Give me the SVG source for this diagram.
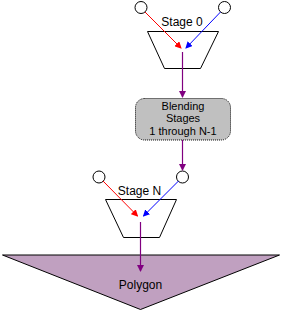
<svg xmlns="http://www.w3.org/2000/svg" width="281" height="311" viewBox="0 0 281 311">
<defs>
<style>
text{font-family:"Liberation Sans",Arial,sans-serif;font-size:12px;fill:#000;text-anchor:middle}
text.s{font-size:11px}
.c{fill:#fff;stroke:#000;stroke-width:1}
.t{fill:#fff;stroke:#000;stroke-width:1}
.r{stroke:#ff0000;stroke-width:1;fill:none}
.b{stroke:#0000ff;stroke-width:1;fill:none}
.p{stroke:#800080;stroke-width:1.2;fill:none}
</style>
<marker id="ar" markerWidth="7" markerHeight="7" refX="6" refY="3.5" orient="auto" markerUnits="userSpaceOnUse"><path d="M0,0 L7,3.5 L0,7 Z" fill="#ff0000"/></marker>
<marker id="ab" markerWidth="7" markerHeight="7" refX="6" refY="3.5" orient="auto" markerUnits="userSpaceOnUse"><path d="M0,0 L7,3.5 L0,7 Z" fill="#0000ff"/></marker>
<marker id="ap" markerWidth="7" markerHeight="7" refX="6" refY="3.5" orient="auto" markerUnits="userSpaceOnUse"><path d="M0,0 L7,3.5 L0,7 Z" fill="#800080"/></marker>
</defs>
<g id="polygon">
<polygon points="2.5,255 279.5,255 140.5,309.5" fill="#c0a0c0" stroke="#000" stroke-width="1"/>
<text x="140.5" y="288.5">Polygon</text>
</g>
<g id="stage0">
<polygon class="t" points="147.5,31.5 218.5,31.5 200.5,68.5 164.5,68.5"/>
<text x="182" y="25.5">Stage 0</text>
</g>
<g id="stage0-in1"><circle class="c" cx="141" cy="7.5" r="6"/></g>
<g id="stage0-in2"><circle class="c" cx="224.5" cy="7.5" r="6"/></g>
<g id="blending">
<rect x="135.5" y="98.5" width="95" height="41.5" rx="9" fill="#c0c0c0" stroke="#000" stroke-width="1" stroke-dasharray="1,1"/>
<text class="s" x="183" y="109.5">Blending</text>
<text class="s" x="183" y="122">Stages</text>
<text class="s" x="183" y="134.5">1 through N-1</text>
</g>
<g id="stageN">
<polygon class="t" points="105.5,199.5 176.5,199.5 159.5,237.5 123.5,237.5"/>
<text x="139.5" y="194.5">Stage N</text>
</g>
<g id="stageN-in1"><circle class="c" cx="99" cy="177" r="6"/></g>
<g id="stageN-in2"><circle class="c" cx="182.5" cy="177" r="6"/></g>
<g id="connectors">
<line class="r" x1="145" y1="12" x2="181" y2="48" marker-end="url(#ar)"/>
<line class="b" x1="220.5" y1="12" x2="186" y2="48" marker-end="url(#ab)"/>
<line class="p" x1="182.5" y1="52" x2="182.5" y2="97" marker-end="url(#ap)"/>
<line class="p" x1="182.5" y1="140" x2="182.5" y2="170" marker-end="url(#ap)"/>
<line class="r" x1="103" y1="181" x2="137.5" y2="216" marker-end="url(#ar)"/>
<line class="b" x1="178.5" y1="181" x2="143.5" y2="216" marker-end="url(#ab)"/>
<line class="p" x1="140.5" y1="222" x2="140.5" y2="271" marker-end="url(#ap)"/>
</g>
</svg>
